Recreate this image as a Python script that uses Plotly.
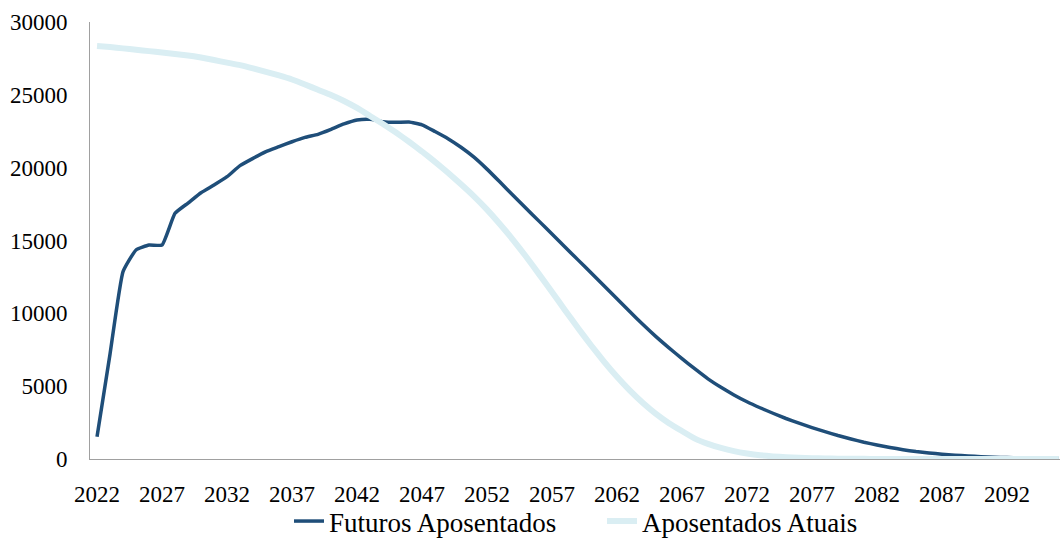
import plotly.graph_objects as go

# --- Data ---
years = list(range(2022, 2097))

futuros = [
    1530, 7200, 12860, 14350, 14690, 14690, 16870, 17570, 18280, 18810,
    19380, 20140, 20640, 21100, 21440, 21780, 22080, 22290, 22630, 23000,
    23270, 23320, 23150, 23110, 23130, 22940, 22480, 21990, 21400, 20720,
    19900, 19010, 18110, 17220, 16330, 15450, 14560, 13670, 12780, 11890,
    11000, 10110, 9230, 8400, 7630, 6890, 6180, 5500, 4920, 4400,
    3930, 3520, 3140, 2780, 2460, 2160, 1880, 1610, 1370, 1150,
    960, 790, 640, 510, 410, 330, 260, 205, 160, 125,
    95, 75, 55, 42, 32,
]

atuais = [
    28350, 28280, 28190, 28100, 28000, 27910, 27800, 27700, 27560, 27390,
    27210, 27040, 26820, 26580, 26330, 26050, 25710, 25350, 24990, 24580,
    24100, 23550, 23000, 22410, 21780, 21110, 20400, 19650, 18860, 18030,
    17120, 16120, 15050, 13900, 12690, 11460, 10220, 8990, 7810, 6690,
    5650, 4700, 3850, 3100, 2460, 1920, 1400, 1040, 760, 540,
    380, 260, 180, 120, 80, 55, 35, 22, 14, 9,
    6, 4, 2, 1, 1, 0, 0, 0, 0, 0,
    0, 0, 0, 0, 0,
]

x_ticks = list(range(2022, 2093, 5))
y_ticks = [0, 5000, 10000, 15000, 20000, 25000, 30000]

font_family = "Liberation Serif"

fig = go.Figure()

fig.add_trace(go.Scatter(
    x=years, y=futuros, name="Futuros Aposentados", mode="lines",
    line=dict(color="#1F4E79", width=3.5, shape="spline", smoothing=0.4),
))
fig.add_trace(go.Scatter(
    x=years, y=atuais, name="Aposentados Atuais", mode="lines",
    line=dict(color="#DAEEF3", width=6, shape="spline", smoothing=0.4),
))

fig.update_layout(
    width=1060, height=539,
    margin=dict(l=90, r=0, t=22, b=80),
    paper_bgcolor="white", plot_bgcolor="white",
    font=dict(family=font_family, size=23, color="black"),
    showlegend=True,
    legend=dict(
        orientation="h", xref="container", yref="container",
        x=289 / 1060, xanchor="left", y=1 - 497 / 539, yanchor="top",
        bgcolor="rgba(0,0,0,0)",
        font=dict(size=27), traceorder="normal",
        entrywidth=268, entrywidthmode="pixels",
    ),
)

fig.update_xaxes(
    range=[2021.46, 2096.08], tickvals=x_ticks, ticks="",
    showline=True, linecolor="#a0a0a0", linewidth=1, automargin=False,
    showgrid=False, zeroline=False, ticklabelstandoff=14,
)
fig.update_yaxes(
    range=[0, 30000], tickvals=y_ticks, tickformat="d", ticks="",
    showline=True, linecolor="#a0a0a0", linewidth=1, automargin=False,
    showgrid=False, zeroline=False, ticklabelstandoff=17,
)

# page body has a default 8px margin; drop it so the figure sits at 0,0
fig.write_html(
    "out.html",
    config={"displayModeBar": False},
    post_script="document.body.style.margin='0';",
)
